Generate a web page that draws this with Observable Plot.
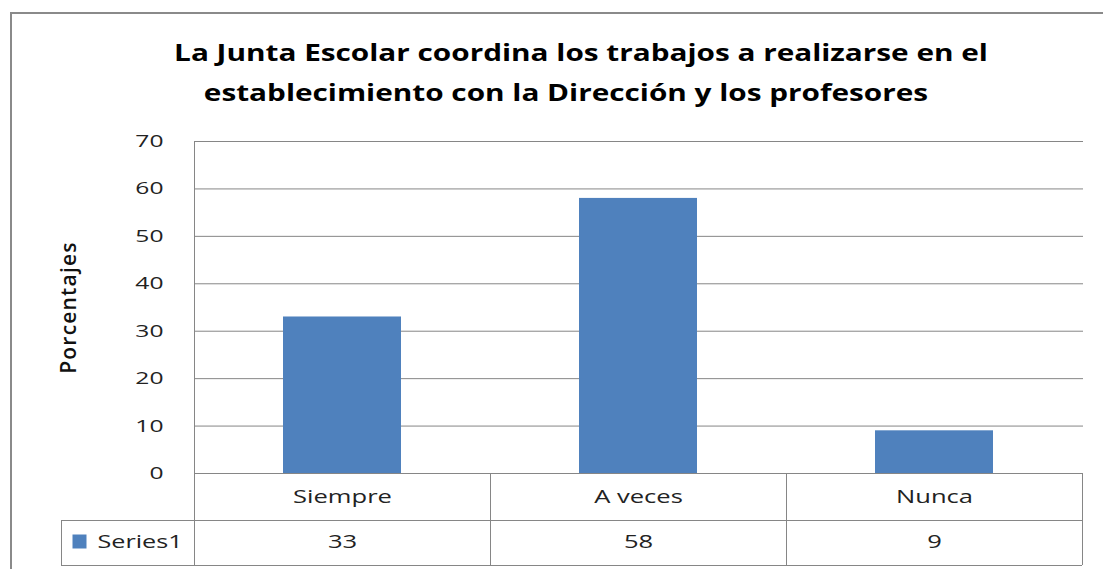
<!DOCTYPE html>
<html><head><meta charset="utf-8">
<script src="https://cdn.jsdelivr.net/npm/d3@7"></script>
<script src="https://cdn.jsdelivr.net/npm/@observablehq/plot@0.6"></script>
<style>
html,body{margin:0;padding:0;background:#fff;overflow:hidden;}
#wrap{position:relative;width:1103px;height:569px;overflow:hidden;}
#border{position:absolute;left:10px;top:12px;width:1200px;height:700px;border:2px solid #8a8a8a;box-sizing:border-box;}
#wrap svg{position:absolute;left:0;top:0;}
</style></head><body><div id="wrap"><div id="border"></div></div>
<script>
const categories = ["Siempre", "A veces", "Nunca"];
const values = [33, 58, 9];
const seriesName = "Series1";
const titleLines = ["La Junta Escolar coordina los trabajos a realizarse en el", "establecimiento con la Dirección y los profesores"];
const yLabel = "Porcentajes";
const yTicks = [0, 10, 20, 30, 40, 50, 60, 70];

const data = categories.map((c, i) => ({category: c, value: values[i]}));
const gray = "#868686";
const barColor = "#4F81BD";
const font = "'Open Sans', sans-serif";

const plot = Plot.plot({
  width: 1103, height: 569,
  marginLeft: 194, marginRight: 20, marginTop: 141, marginBottom: 96,
  style: {fontFamily: font, background: "transparent", overflow: "visible"},
  x: {domain: categories, paddingInner: 0.6, paddingOuter: 0.3, axis: null},
  y: {domain: [0, 70], axis: null},
  marks: [
    Plot.gridY({ticks: yTicks, stroke: gray, strokeOpacity: 1, strokeWidth: 1}),
    Plot.barY(data, {x: "category", y: "value", fill: barColor}),
    Plot.text(yTicks, {y: d => d, text: d => String(d), frameAnchor: "left", dx: -31, textAnchor: "end", fontSize: 17, fill: "#222"}),
    Plot.text([yLabel], {frameAnchor: "left", dx: -125, rotate: -90, textAnchor: "middle", fontSize: 21, fontWeight: 600, fill: "#111"}),
    Plot.text([titleLines[0]], {frameAnchor: "top", dx: -58, dy: -88, lineAnchor: "middle", fontSize: 24, fontWeight: 700, fill: "#000"}),
    Plot.text([titleLines[1]], {frameAnchor: "top", dx: -73, dy: -48, lineAnchor: "middle", fontSize: 24, fontWeight: 700, fill: "#000"}),
    Plot.text(data, {x: "category", text: "category", frameAnchor: "bottom", dy: 24, lineAnchor: "middle", fontSize: 18, fill: "#222"}),
    Plot.text(data, {x: "category", text: d => String(d.value), frameAnchor: "bottom", dy: 69, lineAnchor: "middle", fontSize: 18, fill: "#222"}),
    Plot.dot([seriesName], {frameAnchor: "bottom-left", dx: -115, dy: 68, symbol: "square", r: 7.9, fill: barColor, stroke: null}),
    Plot.text([seriesName], {frameAnchor: "bottom-left", dx: -97, dy: 69, textAnchor: "start", lineAnchor: "middle", fontSize: 18, fill: "#222"})
  ]
});

const svg = d3.select(plot);
// horizontal stretch to mimic the widened rendering of the original
const stretch = new Map();
titleLines.forEach(t => stretch.set(t, [1.24, 0]));
stretch.set(yLabel, [1, 1.2]);
yTicks.forEach(t => stretch.set(String(t), [1.45, 0]));
categories.forEach(t => stretch.set(t, [1.42, 0]));
values.forEach(v => stretch.set(String(v), [1.42, 0]));
stretch.set(seriesName, [1.4, 0]);
svg.selectAll("text").each(function() {
  const s = stretch.get(this.textContent);
  if (s != null) {
    const [k, ls] = s;
    if (k !== 1) this.setAttribute("transform", (this.getAttribute("transform") || "") + ` scale(${k},1)`);
    if (ls) this.style.letterSpacing = ls + "px";
  }
});

// Data table grid lines derived from the plot's scales
const sx = plot.scale("x"), sy = plot.scale("y");
const y0 = sy.apply(0), yTop = sy.apply(yTicks[yTicks.length - 1]);
const half = (sx.step - sx.bandwidth) / 2;
const bounds = categories.map(c => sx.apply(c) - half);
const xEnd = sx.apply(categories[categories.length - 1]) + sx.bandwidth + half;
const row1 = y0 + 47, row2 = y0 + 92;
const legendLeft = bounds[0] - 133;
const g = svg.append("g").attr("stroke", gray).attr("stroke-width", 1).attr("shape-rendering", "crispEdges");
const lines = [
  [bounds[0], yTop, bounds[0], row2],
  ...bounds.slice(1).map(b => [b, y0, b, row2]),
  [xEnd, y0, xEnd, row2],
  [legendLeft, row1, xEnd, row1],
  [legendLeft, row2, xEnd, row2],
  [legendLeft, row1, legendLeft, row2]
];
lines.forEach(([x1, y1, x2, y2]) => g.append("line").attr("x1", x1).attr("y1", y1).attr("x2", x2).attr("y2", y2));
document.getElementById("wrap").appendChild(plot);
</script>
</body></html>
